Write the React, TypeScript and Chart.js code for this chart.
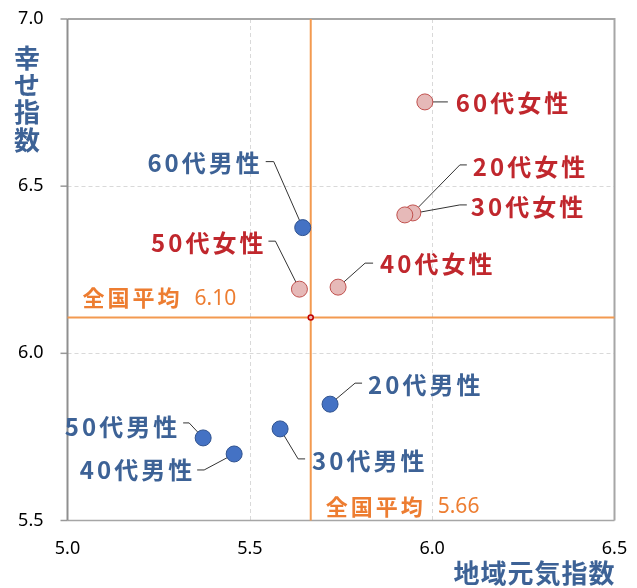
import React, { useEffect, useRef } from 'react';
import { Chart, registerables } from 'chart.js';
Chart.register(...registerables);

// ---- data ----
const MALE_LABELS = ['20代男性', '30代男性', '40代男性', '50代男性', '60代男性'];
const MALE_X = [5.72, 5.583, 5.457, 5.372, 5.645];
const MALE_Y = [5.848, 5.774, 5.699, 5.747, 6.376];
const FEMALE_LABELS = ['20代女性', '30代女性', '40代女性', '50代女性', '60代女性'];
const FEMALE_X = [5.947, 5.925, 5.742, 5.636, 5.98];
const FEMALE_Y = [6.42, 6.414, 6.198, 6.192, 6.752];
const AVG_X = 5.667;
const AVG_X_TEXT = '5.66';
const AVG_Y = 6.107;
const AVG_Y_TEXT = '6.10';
const AVG_LABEL = '全国平均';
const X_TICKS = ['5.0', '5.5', '6.0', '6.5'];
const Y_TICKS = ['5.5', '6.0', '6.5', '7.0'];
const X_TITLE = '地域元気指数';
const Y_TITLE = '幸せ指数';

// ---- callout layout (pixel offsets relative to each point) ----
type Callout = { elbow: number[] | null; end: number[]; text: number[]; align: 'left' | 'right' };
const MALE_CALLOUTS: Callout[] = [
  { elbow: [25, -21], end: [32, -21], text: [38, -19], align: 'left' },
  { elbow: [18, 30], end: [25, 30], text: [32, 32], align: 'left' },
  { elbow: [-30, 16], end: [-37, 16], text: [-42, 16], align: 'right' },
  { elbow: [-14, -15], end: [-20, -15], text: [-26, -11], align: 'right' },
  { elbow: [-29, -66], end: [-37, -66], text: [-43, -65], align: 'right' },
];
const FEMALE_CALLOUTS: Callout[] = [
  { elbow: [47, -48], end: [54, -48], text: [60, -46], align: 'left' },
  { elbow: [55, -10], end: [62, -10], text: [66, -8], align: 'left' },
  { elbow: [27, -24], end: [35, -24], text: [42, -23], align: 'left' },
  { elbow: [-24, -48], end: [-31, -48], text: [-36, -46], align: 'right' },
  { elbow: null, end: [23, 0], text: [31, 1], align: 'left' },
];

const CJK = '"Noto Sans CJK JP", "Noto Sans CJK SC", sans-serif';
const LATIN = '"Noto Sans", "DejaVu Sans", sans-serif';
const BLUE_TEXT = '#3D6296';
const RED_TEXT = '#C0272D';
const ORANGE = '#ED7D31';
const ORANGE_LINE = '#F39A50';

function drawSpaced(ctx: CanvasRenderingContext2D, text: string, x: number, y: number, spacing: number, align: 'left' | 'right' | 'center') {
  const chars = [...text];
  const ws = chars.map((c) => ctx.measureText(c).width);
  const total = ws.reduce((a, b) => a + b, 0) + spacing * (chars.length - 1);
  let cx = align === 'right' ? x - total : align === 'center' ? x - total / 2 : x;
  ctx.textAlign = 'left';
  chars.forEach((c, i) => {
    ctx.fillText(c, cx, y);
    cx += ws[i] + spacing;
  });
  return total;
}

const decorPlugin = {
  id: 'decor',
  beforeDatasetsDraw(chart: any) {
    const { ctx, chartArea: a, scales } = chart;
    const xs = scales.x;
    const ys = scales.y;
    ctx.save();
    // gridlines
    ctx.strokeStyle = '#D9D9D9';
    ctx.lineWidth = 1;
    ctx.setLineDash([4, 3]);
    X_TICKS.slice(1, -1).forEach((t) => {
      const px = Math.round(xs.getPixelForValue(Number(t))) + 0.5;
      ctx.beginPath();
      ctx.moveTo(px, a.top);
      ctx.lineTo(px, a.bottom);
      ctx.stroke();
    });
    Y_TICKS.slice(1, -1).forEach((t) => {
      const py = Math.round(ys.getPixelForValue(Number(t))) + 0.5;
      ctx.beginPath();
      ctx.moveTo(a.left, py);
      ctx.lineTo(a.right, py);
      ctx.stroke();
    });
    ctx.setLineDash([]);
    // y tick marks
    ctx.strokeStyle = '#999999';
    ctx.lineWidth = 1.5;
    Y_TICKS.forEach((t) => {
      const py = ys.getPixelForValue(Number(t));
      ctx.beginPath();
      ctx.moveTo(a.left - 7, py);
      ctx.lineTo(a.left, py);
      ctx.stroke();
    });
    // frame
    ctx.strokeStyle = '#A6A6A6';
    ctx.lineWidth = 2;
    ctx.beginPath();
    ctx.moveTo(a.left, a.top);
    ctx.lineTo(a.right, a.top);
    ctx.lineTo(a.right, a.bottom);
    ctx.stroke();
    ctx.lineWidth = 1.5;
    ctx.beginPath();
    ctx.moveTo(a.left, a.bottom);
    ctx.lineTo(a.right, a.bottom);
    ctx.stroke();
    ctx.strokeStyle = '#8F8F8F';
    ctx.lineWidth = 2;
    ctx.beginPath();
    ctx.moveTo(a.left, a.top);
    ctx.lineTo(a.left, a.bottom);
    ctx.stroke();
    // average lines
    const ax = xs.getPixelForValue(AVG_X);
    const ay = ys.getPixelForValue(AVG_Y);
    ctx.strokeStyle = ORANGE_LINE;
    ctx.lineWidth = 2;
    ctx.beginPath();
    ctx.moveTo(ax, a.top);
    ctx.lineTo(ax, a.bottom);
    ctx.moveTo(a.left, ay);
    ctx.lineTo(a.right, ay);
    ctx.stroke();
    // average labels
    ctx.fillStyle = ORANGE;
    ctx.textBaseline = 'middle';
    ctx.font = `bold 22px ${CJK}`;
    let w = drawSpaced(ctx, AVG_LABEL, a.left + 15, ay - 20, 3, 'left');
    ctx.font = `21px ${LATIN}`;
    ctx.fillText(AVG_Y_TEXT, a.left + 15 + w + 15, ay - 19);
    ctx.font = `bold 22px ${CJK}`;
    w = drawSpaced(ctx, AVG_LABEL, ax + 15, a.bottom - 14, 3, 'left');
    ctx.font = `21px ${LATIN}`;
    ctx.fillText(AVG_X_TEXT, ax + 15 + w + 15, a.bottom - 13);
    // leader lines
    ctx.strokeStyle = '#333333';
    ctx.lineWidth = 1;
    const leaders = (X: number[], Y: number[], C: Callout[]) => {
      X.forEach((v, i) => {
        const px = xs.getPixelForValue(v);
        const py = ys.getPixelForValue(Y[i]);
        const c = C[i];
        ctx.beginPath();
        ctx.moveTo(px, py);
        if (c.elbow) ctx.lineTo(px + c.elbow[0], py + c.elbow[1]);
        ctx.lineTo(px + c.end[0], py + c.end[1]);
        ctx.stroke();
      });
    };
    leaders(MALE_X, MALE_Y, MALE_CALLOUTS);
    leaders(FEMALE_X, FEMALE_Y, FEMALE_CALLOUTS);
    ctx.restore();
  },
  afterDatasetsDraw(chart: any) {
    const { ctx, chartArea: a, scales } = chart;
    const xs = scales.x;
    const ys = scales.y;
    ctx.save();
    ctx.textBaseline = 'middle';
    ctx.font = `bold 24px ${CJK}`;
    const labels = (X: number[], Y: number[], L: string[], C: Callout[], color: string) => {
      ctx.fillStyle = color;
      X.forEach((v, i) => {
        const px = xs.getPixelForValue(v);
        const py = ys.getPixelForValue(Y[i]);
        const c = C[i];
        drawSpaced(ctx, L[i], px + c.text[0], py + c.text[1], 3, c.align);
      });
    };
    labels(MALE_X, MALE_Y, MALE_LABELS, MALE_CALLOUTS, BLUE_TEXT);
    labels(FEMALE_X, FEMALE_Y, FEMALE_LABELS, FEMALE_CALLOUTS, RED_TEXT);
    // axis titles
    ctx.fillStyle = BLUE_TEXT;
    ctx.font = `bold 26px ${CJK}`;
    ctx.textAlign = 'center';
    [...Y_TITLE].forEach((ch, i) => {
      ctx.fillText(ch, 27, a.top + 39 + i * 27.3);
    });
    drawSpaced(ctx, X_TITLE, a.right, 573, 1, 'right');
    ctx.restore();
  },
};

export default function App() {
  const ref = useRef<HTMLCanvasElement | null>(null);
  useEffect(() => {
    document.body.style.margin = '0';
    if (!ref.current) return;
    const chart = new Chart(ref.current, {
      type: 'scatter',
      data: {
        datasets: [
          {
            label: 'male',
            data: MALE_X.map((x, i) => ({ x, y: MALE_Y[i] })),
            backgroundColor: '#4472C4',
            borderColor: '#2F528F',
            borderWidth: 1,
            pointRadius: 8,
            pointHoverRadius: 8,
          },
          {
            label: 'female',
            data: FEMALE_X.map((x, i) => ({ x, y: FEMALE_Y[i] })),
            backgroundColor: '#E6B9B8',
            borderColor: '#C0504D',
            borderWidth: 1,
            pointRadius: 8,
            pointHoverRadius: 8,
          },
          {
            label: 'avg',
            data: [{ x: AVG_X, y: AVG_Y }],
            backgroundColor: '#E6B9B8',
            borderColor: '#C00000',
            borderWidth: 1.5,
            pointRadius: 2.5,
          },
        ],
      },
      options: {
        responsive: false,
        animation: false,
        layout: { padding: { top: 19, right: 22.5, left: 0, bottom: 0 } },
        plugins: { legend: { display: false }, tooltip: { enabled: false } },
        scales: {
          x: {
            type: 'linear',
            min: Number(X_TICKS[0]),
            max: Number(X_TICKS[X_TICKS.length - 1]),
            afterBuildTicks: (s: any) => {
              s.ticks = X_TICKS.map((t) => ({ value: Number(t) }));
            },
            afterFit: (s: any) => {
              s.height = 67.5;
            },
            grid: { display: true, drawOnChartArea: false, drawTicks: true, tickLength: 18, color: 'rgba(0,0,0,0)', tickColor: 'rgba(0,0,0,0)' },
            border: { display: false },
            ticks: {
              padding: 0,
              color: '#000',
              font: { family: LATIN, size: 18 },
              callback: (v: any) => X_TICKS.find((t) => Number(t) === v) ?? '',
            },
          },
          y: {
            type: 'linear',
            min: Number(Y_TICKS[0]),
            max: Number(Y_TICKS[Y_TICKS.length - 1]),
            afterBuildTicks: (s: any) => {
              s.ticks = Y_TICKS.map((t) => ({ value: Number(t) }));
            },
            afterFit: (s: any) => {
              s.width = 67.5;
            },
            grid: { display: true, drawOnChartArea: false, drawTicks: true, tickLength: 24, color: 'rgba(0,0,0,0)', tickColor: 'rgba(0,0,0,0)' },
            border: { display: false },
            ticks: {
              padding: 0,
              color: '#000',
              font: { family: LATIN, size: 18 },
              callback: (v: any) => Y_TICKS.find((t) => Number(t) === v) ?? '',
            },
          },
        },
      },
      plugins: [decorPlugin],
    });
    return () => chart.destroy();
  }, []);
  return (
    <div style={{ width: 637, height: 588 }}>
      <canvas ref={ref} width={637} height={588} />
    </div>
  );
}
